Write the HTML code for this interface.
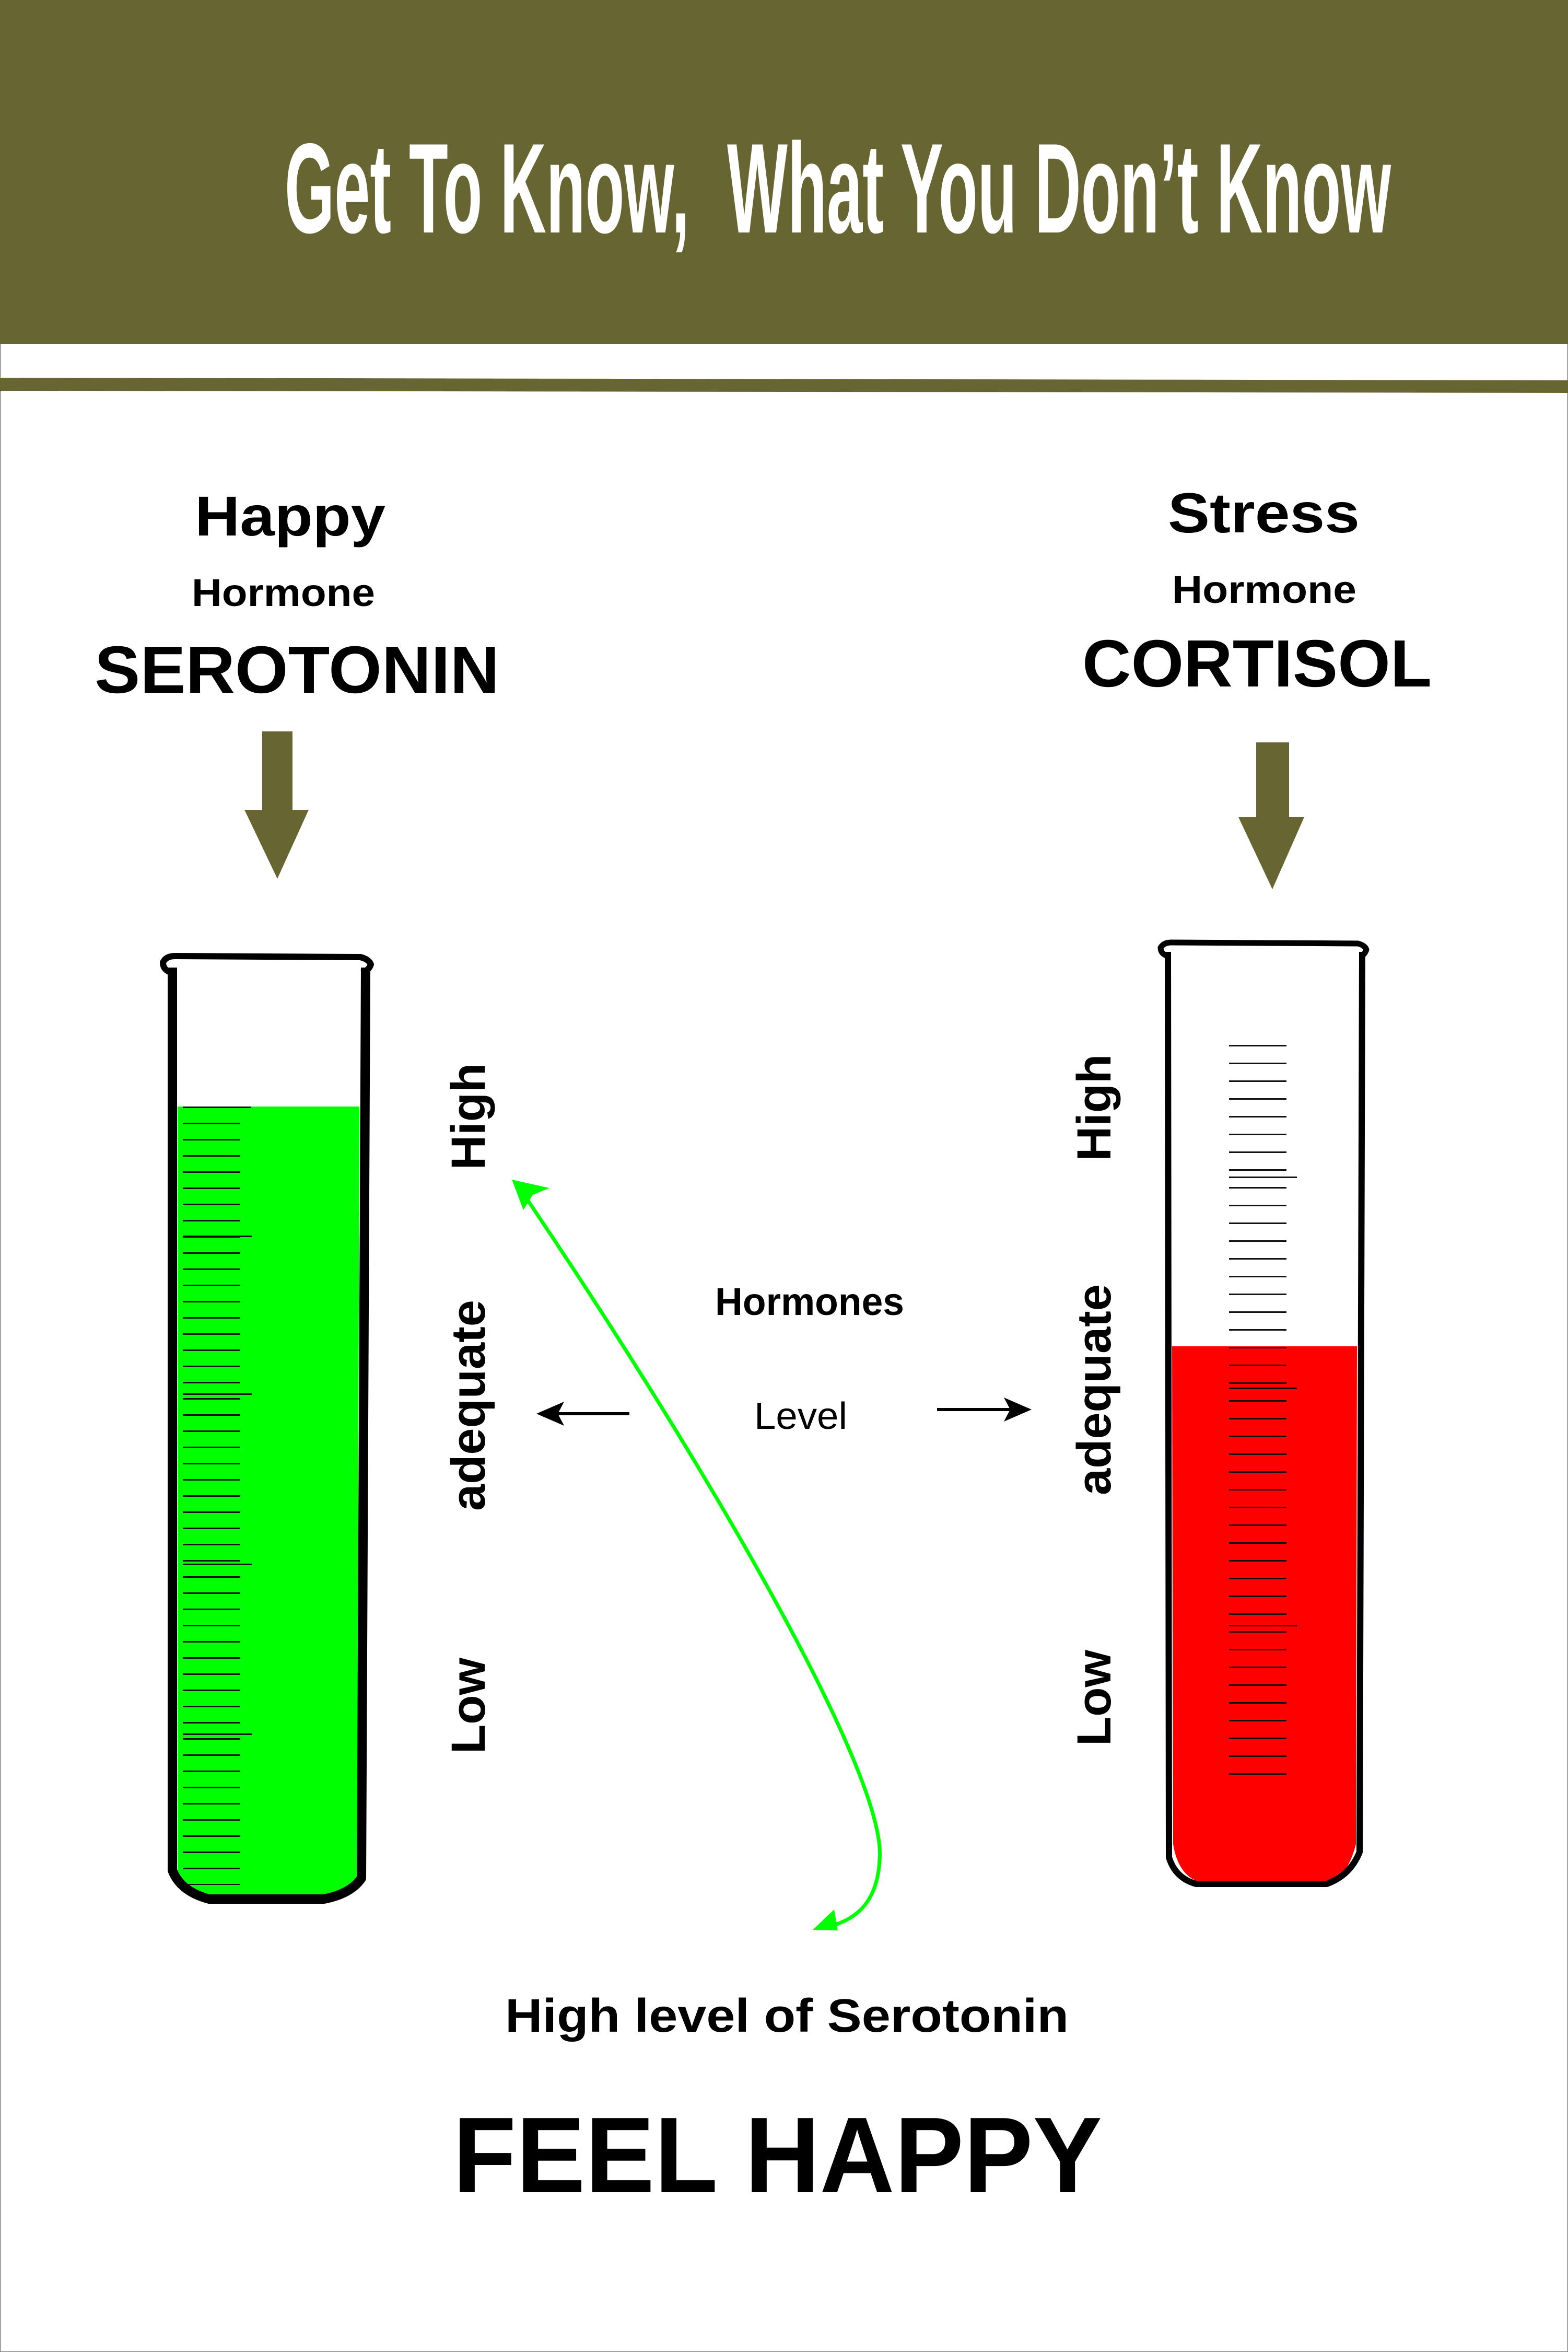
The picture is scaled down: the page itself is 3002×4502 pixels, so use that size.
<!DOCTYPE html>
<html><head><meta charset="utf-8"><style>
html,body{margin:0;padding:0;background:#fff}
svg{display:block}
</style></head><body>
<svg width="3002" height="4502" viewBox="0 0 3002 4502" xmlns="http://www.w3.org/2000/svg">
<defs>
<pattern id="tk" x="0" y="2118" width="200" height="31" patternUnits="userSpaceOnUse">
<rect x="0" y="0" width="200" height="3" fill="#111"/>
</pattern>
<pattern id="tk2" x="0" y="2000" width="200" height="34" patternUnits="userSpaceOnUse">
<rect x="0" y="0" width="200" height="3" fill="#111"/>
</pattern>
</defs>
<rect x="0" y="0" width="3002" height="4502" fill="#fff" stroke="#888" stroke-width="3"/>
<rect x="0" y="0" width="3002" height="658" fill="#676633"/>
<polygon points="0,723 3002,728 3002,752 0,748" fill="#676633"/>
<g font-family="Liberation Sans Narrow, Liberation Sans, sans-serif" font-weight="bold" font-size="245" fill="#fff">
<text x="545" y="445" textLength="775" lengthAdjust="spacingAndGlyphs">Get To Know,</text>
<text x="1392" y="445" textLength="1271" lengthAdjust="spacingAndGlyphs">What You Don’t Know</text>
</g>

<g font-family="Liberation Sans, sans-serif" font-weight="bold" fill="#000">
<text x="373" y="1025" font-size="108" textLength="365" lengthAdjust="spacingAndGlyphs">Happy</text>
<text x="367" y="1160" font-size="74" textLength="351" lengthAdjust="spacingAndGlyphs">Hormone</text>
<text x="181" y="1326" font-size="128" textLength="775" lengthAdjust="spacingAndGlyphs">SEROTONIN</text>
<text x="2236" y="1019" font-size="108" textLength="367" lengthAdjust="spacingAndGlyphs">Stress</text>
<text x="2244" y="1154" font-size="74" textLength="353" lengthAdjust="spacingAndGlyphs">Hormone</text>
<text x="2072" y="1314" font-size="128" textLength="669" lengthAdjust="spacingAndGlyphs">CORTISOL</text>
</g>

<polygon points="502,1400 560,1400 560,1550 591,1550 531,1682 468,1550 502,1550" fill="#676633"/>
<polygon points="2405,1421 2468,1421 2468,1564 2497,1564 2436,1702 2371,1564 2405,1564" fill="#676633"/>

<!-- left tube -->
<path d="M340,2118 L688,2118 L684,3590 Q670,3622 620,3630 L400,3630 Q350,3618 340,3580 Z" fill="#00ff00"/>
<rect x="350" y="2118" width="110" height="1490" fill="url(#tk)"/>
<rect x="350" y="2118" width="130" height="3" fill="#111"/>
<rect x="350" y="2365" width="132" height="3" fill="#111"/>
<rect x="350" y="2667" width="132" height="3" fill="#111"/>
<rect x="350" y="2993" width="132" height="3" fill="#111"/>
<rect x="350" y="3318" width="132" height="3" fill="#111"/>
<path d="M330,1852 L330,3580 Q345,3620 400,3635 L620,3635 Q672,3625 692,3595 L700,1852" fill="none" stroke="#000" stroke-width="18" stroke-linejoin="round"/>
<path d="M330,1862 Q312,1858 312,1842 Q318,1830 335,1830 L690,1832 Q706,1836 710,1846 Q706,1858 692,1862" fill="none" stroke="#000" stroke-width="12" stroke-linejoin="round"/>

<!-- right tube -->
<path d="M2244,2577 L2598,2577 L2596,3530 Q2580,3590 2550,3600 L2290,3600 Q2255,3585 2246,3530 Z" fill="#ff0000"/>
<rect x="2353" y="2000" width="110" height="1424" fill="url(#tk2)"/>
<rect x="2353" y="2252" width="130" height="3" fill="#111"/>
<rect x="2353" y="2656" width="130" height="3" fill="#111"/>
<rect x="2353" y="3110" width="130" height="3" fill="#111"/>
<path d="M2236,1822 L2238,3555 Q2250,3595 2290,3606 L2540,3606 Q2585,3590 2603,3545 L2608,1822" fill="none" stroke="#000" stroke-width="12" stroke-linejoin="round"/>
<path d="M2236,1830 Q2222,1826 2222,1814 Q2228,1804 2242,1804 L2600,1806 Q2614,1810 2616,1818 Q2612,1828 2606,1830" fill="none" stroke="#000" stroke-width="11" stroke-linejoin="round"/>

<g font-family="Liberation Sans, sans-serif" font-weight="bold" font-size="92" fill="#000" text-anchor="middle">
<text transform="translate(928,2137) rotate(-90)">High</text>
<text transform="translate(928,2690) rotate(-90)">adequate</text>
<text transform="translate(928,3265) rotate(-90)">Low</text>
<text transform="translate(2126,2120) rotate(-90)">High</text>
<text transform="translate(2126,2660) rotate(-90)">adequate</text>
<text transform="translate(2126,3250) rotate(-90)">Low</text>
</g>

<text x="1369" y="2517" font-family="Liberation Sans Narrow, Liberation Sans, sans-serif" font-weight="bold" font-size="74" textLength="362" lengthAdjust="spacingAndGlyphs">Hormones</text>
<text x="1444" y="2735" font-family="Liberation Sans, sans-serif" font-size="72" textLength="178" lengthAdjust="spacingAndGlyphs">Level</text>

<line x1="1060" y1="2706" x2="1205" y2="2706" stroke="#000" stroke-width="6"/>
<polygon points="1027,2706 1080,2683 1068,2706 1080,2729" fill="#000"/>
<line x1="1794" y1="2698" x2="1945" y2="2698" stroke="#000" stroke-width="6"/>
<polygon points="1975,2698 1922,2675 1934,2698 1922,2721" fill="#000"/>

<path d="M1000,2282 C1350,2800 1700,3400 1684,3560 C1680,3640 1640,3675 1585,3688" fill="none" stroke="#00ff00" stroke-width="7"/>
<polygon points="980,2258 1052,2274 1020,2287 1002,2316" fill="#00ff00"/>
<polygon points="1556,3694 1597,3655 1604,3695" fill="#00ff00"/>

<g font-family="Liberation Sans, sans-serif" font-weight="bold" fill="#000">
<text x="967" y="3889" font-size="90" textLength="1079" lengthAdjust="spacingAndGlyphs">High level of Serotonin</text>
<text x="867" y="4196" font-size="206" textLength="1243" lengthAdjust="spacingAndGlyphs">FEEL HAPPY</text>
</g>
</svg>
</body></html>
